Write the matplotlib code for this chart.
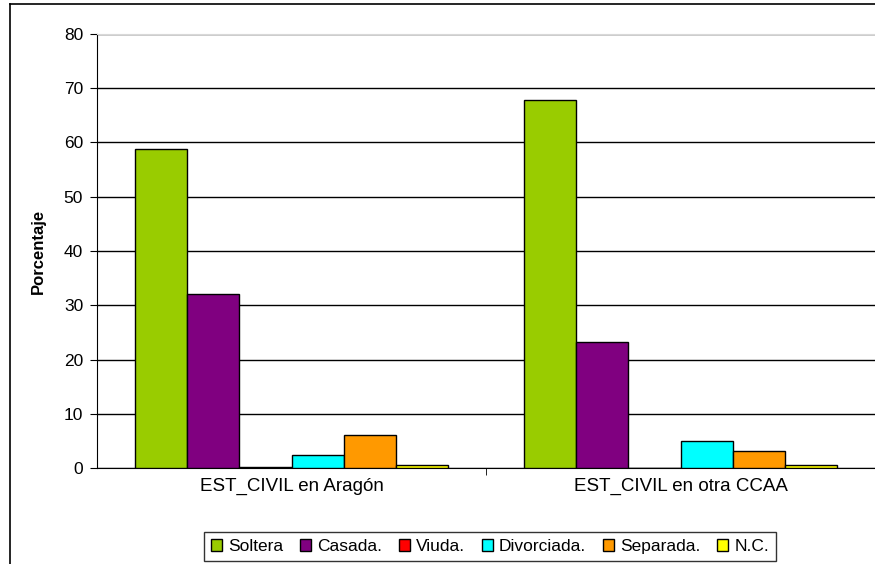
import matplotlib.pyplot as plt
import numpy as np

plt.rcParams['font.family'] = ['Liberation Sans', 'DejaVu Sans']

categories = ['EST_CIVIL en Aragón', 'EST_CIVIL en otra CCAA']
series = ['Soltera', 'Casada.', 'Viuda.', 'Divorciada.', 'Separada.', 'N.C.']
values = [
    [58.8, 67.8],   # Soltera
    [32.1, 23.3],   # Casada.
    [0.2, 0.0],     # Viuda.
    [2.4, 5.0],     # Divorciada.
    [6.1, 3.1],     # Separada.
    [0.5, 0.5],     # N.C.
]
colors = ['#99CC00', '#800080', '#FF0000', '#00FFFF', '#FF9900', '#FFFF00']
yticks = [0, 10, 20, 30, 40, 50, 60, 70, 80]

fig = plt.figure(figsize=(8.75, 5.64), dpi=100)
ax = fig.add_axes([97/875, 1 - 468/564, (875-97)/875, (468-34)/564])

# chart border (only top and left visible, the rest is cut off)
fig.add_artist(plt.Line2D([10/875, 10/875], [0, 1 - 4/564], transform=fig.transFigure,
                          color='black', linewidth=1.2))
fig.add_artist(plt.Line2D([10/875, 1], [1 - 4/564, 1 - 4/564], transform=fig.transFigure,
                          color='black', linewidth=1.2))

x = np.arange(len(categories))
nser = len(series)
w = 0.807 / nser
for i in range(nser):
    ax.bar(x - 0.807/2 + w*(i+0.5), values[i], width=w, color=colors[i],
           edgecolor='black', linewidth=1, label=series[i], zorder=3)

ax.set_xlim(-0.5, 1.5)
ax.set_ylim(0, 80)
ax.set_yticks(yticks)
ax.yaxis.grid(True, color='black', linewidth=1, zorder=0)
ax.set_xticks(x)
ax.set_xticklabels(categories, fontsize=13.5)
ax.set_xticks([0.5], minor=True)
ax.tick_params(axis='x', which='major', length=0, pad=7)
ax.tick_params(axis='x', which='minor', length=5, color='black')
ax.tick_params(axis='y', labelsize=12.5, length=5, color='black', pad=5)
ax.set_ylabel('Porcentaje', fontsize=12, fontweight='bold', labelpad=13)

ax.spines['right'].set_visible(False)
ax.spines['top'].set_color('#d8d8d8')
for s in ['left', 'bottom']:
    ax.spines[s].set_color('black')

leg = fig.legend(loc='lower center', bbox_to_anchor=(490/875, 3/564), ncol=6,
                 fontsize=12.5, frameon=True, fancybox=False, edgecolor='black',
                 handlelength=0.65, handleheight=0.65, handletextpad=0.35,
                 columnspacing=0.95, borderpad=0.4, borderaxespad=0)
leg.get_frame().set_linewidth(1)

plt.savefig('out.png', dpi=100)
